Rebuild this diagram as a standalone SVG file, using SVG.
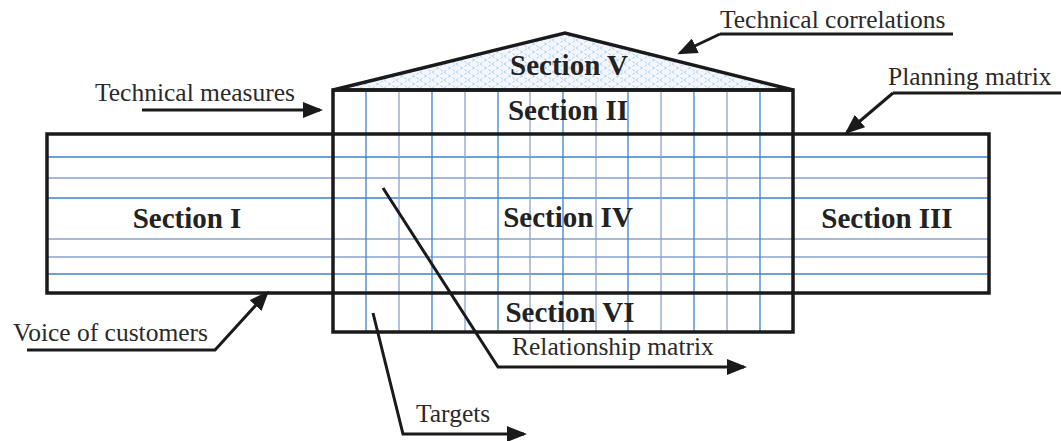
<svg xmlns="http://www.w3.org/2000/svg" width="1061" height="441" viewBox="0 0 1061 441">
<style>
  .frame{fill:none;stroke:#1a1a1a;stroke-width:3.5}
  .gridA{stroke:#3d82cc;stroke-width:1.3}
  .gridB{stroke:#8aa2cc;stroke-width:1.3}
  .sec{font-family:"Liberation Serif","Times New Roman","DejaVu Serif",serif;font-weight:bold;font-size:29px;fill:#222;text-anchor:middle}
  .lbl{font-family:"Liberation Serif","Times New Roman","DejaVu Serif",serif;font-size:25.5px;fill:#2a2a2a}
  .conn{fill:none;stroke:#1a1a1a;stroke-width:3;marker-end:url(#ah)}
  .ul{fill:none;stroke:#1a1a1a;stroke-width:3}
</style>
<defs>
  <marker id="ah" markerUnits="userSpaceOnUse" markerWidth="20" markerHeight="16" refX="17" refY="8" orient="auto">
    <path d="M0,0 L20,8 L0,16 z" fill="#1a1a1a"/>
  </marker>
  <pattern id="hatch" patternUnits="userSpaceOnUse" width="12" height="8">
    <rect width="12" height="8" fill="#f3f7fc"/>
    <path d="M0,8 L12,0 M0,0 L12,8" stroke="#a9c3e3" stroke-width="0.8" stroke-dasharray="3,2"/>
  </pattern>
</defs>
<rect width="1061" height="441" fill="#ffffff"/>

<g id="section5">
  <polygon points="333,90 565,33 793,90" fill="url(#hatch)" stroke="#1a1a1a" stroke-width="3.5" stroke-linejoin="miter"/>
  <text class="sec" x="569" y="75">Section V</text>
</g>

<g id="grid">
  <line class="gridA" x1="47" y1="157" x2="989" y2="157"/>
  <line class="gridB" x1="47" y1="178" x2="989" y2="178"/>
  <line class="gridA" x1="47" y1="198" x2="989" y2="198"/>
  <line class="gridB" x1="47" y1="239" x2="989" y2="239"/>
  <line class="gridB" x1="47" y1="257" x2="989" y2="257"/>
  <line class="gridA" x1="47" y1="274" x2="989" y2="274"/>
  <line class="gridA" x1="366" y1="90" x2="366" y2="332"/>
  <line class="gridB" x1="399" y1="90" x2="399" y2="332"/>
  <line class="gridA" x1="432" y1="90" x2="432" y2="332"/>
  <line class="gridB" x1="465" y1="90" x2="465" y2="332"/>
  <line class="gridA" x1="498" y1="90" x2="498" y2="332"/>
  <line class="gridB" x1="530" y1="90" x2="530" y2="332"/>
  <line class="gridA" x1="563" y1="90" x2="563" y2="332"/>
  <line class="gridB" x1="596" y1="90" x2="596" y2="332"/>
  <line class="gridA" x1="628" y1="90" x2="628" y2="332"/>
  <line class="gridB" x1="661" y1="90" x2="661" y2="332"/>
  <line class="gridA" x1="694" y1="90" x2="694" y2="332"/>
  <line class="gridB" x1="727" y1="90" x2="727" y2="332"/>
  <line class="gridA" x1="760" y1="90" x2="760" y2="332"/>
</g>

<g id="frames">
  <rect class="frame" x="47" y="134" width="942" height="159"/>
  <rect class="frame" x="333" y="90" width="460" height="242"/>
</g>

<g id="section1"><text class="sec" x="187" y="228">Section I</text></g>
<g id="section2"><text class="sec" x="568" y="120">Section II</text></g>
<g id="section3"><text class="sec" x="887" y="228">Section III</text></g>
<g id="section4"><text class="sec" x="568" y="227">Section IV</text></g>
<g id="section6"><text class="sec" x="570" y="322">Section VI</text></g>

<g id="labels">
  <text class="lbl" x="95" y="101">Technical measures</text>
  <text class="lbl" x="720" y="28">Technical correlations</text>
  <text class="lbl" x="888" y="85">Planning matrix</text>
  <text class="lbl" x="13" y="341">Voice of customers</text>
  <text class="lbl" x="512" y="355">Relationship matrix</text>
  <text class="lbl" x="416" y="422">Targets</text>
</g>

<g id="connectors">
  <line class="conn" x1="142" y1="110" x2="320" y2="110"/>
  <polyline class="ul" points="953,34 720,34"/>
  <line class="conn" x1="720" y1="34" x2="680" y2="53"/>
  <polyline class="ul" points="1061,93 893,93"/>
  <line class="conn" x1="893" y1="93" x2="847" y2="132"/>
  <polyline class="conn" points="27,350 215,350 267,293"/>
  <polyline class="conn" points="383,188 498,367 744,367"/>
  <polyline class="conn" points="373,313 403,434 524,434"/>
</g>
</svg>
